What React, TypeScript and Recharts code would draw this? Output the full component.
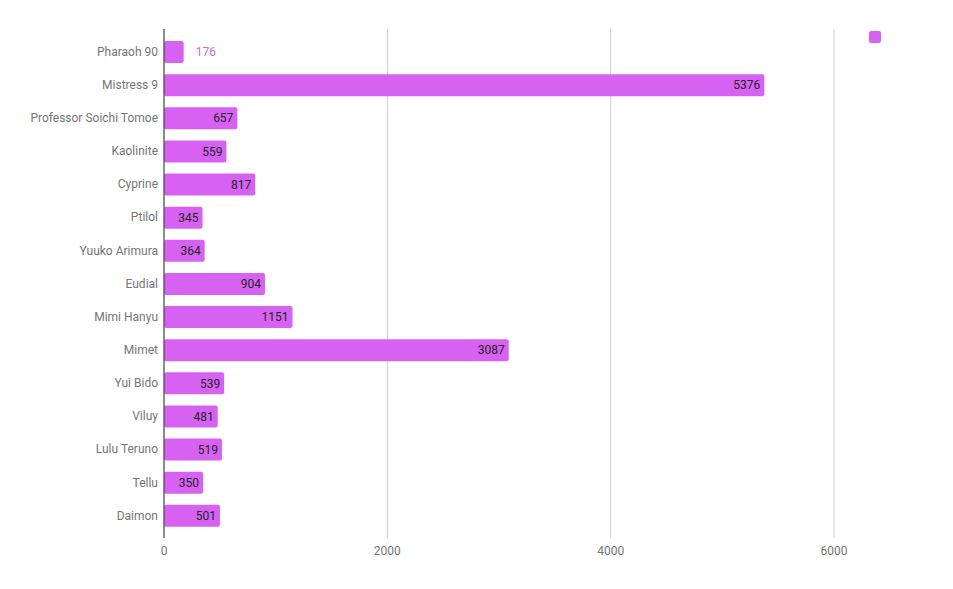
import { BarChart, Bar, XAxis, YAxis, CartesianGrid, LabelList } from 'recharts';

const names = [
  'Pharaoh 90',
  'Mistress 9',
  'Professor Soichi Tomoe',
  'Kaolinite',
  'Cyprine',
  'Ptilol',
  'Yuuko Arimura',
  'Eudial',
  'Mimi Hanyu',
  'Mimet',
  'Yui Bido',
  'Viluy',
  'Lulu Teruno',
  'Tellu',
  'Daimon',
];
const values = [176, 5376, 657, 559, 817, 345, 364, 904, 1151, 3087, 539, 481, 519, 350, 501];
const xTicks = [0, 2000, 4000, 6000];

const data = names.map((name, i) => ({ name, value: values[i] }));

const BAR_COLOR = '#d762f2';
const FONT = 'Roboto, sans-serif';

// label inside the bar end when it fits, otherwise just outside in the bar colour
function ValueLabel(props: any) {
  const { x, y, width, height, value } = props;
  const text = String(value);
  const textWidth = text.length * 7;
  const cy = y + height / 2;
  if (width > textWidth + 8) {
    return (
      <text x={x + width - 4} y={cy} dy="0.35em" textAnchor="end" fontSize={12} fill="#222" fontFamily={FONT}>
        {text}
      </text>
    );
  }
  return (
    <text x={x + width + 12} y={cy} dy="0.35em" textAnchor="start" fontSize={12} fill={BAR_COLOR} fontFamily={FONT}>
      {text}
    </text>
  );
}

export default function App() {
  return (
    <div style={{ position: 'absolute', left: 0, top: 0, width: 953, height: 589, background: '#fff', fontFamily: FONT }}>
      <BarChart
        width={953}
        height={589}
        data={data}
        layout="vertical"
        margin={{ top: 29, right: 119, bottom: 0, left: 0 }}
      >
        <CartesianGrid horizontal={false} stroke="#cccccc" />
        <XAxis
          type="number"
          domain={[0, 6000]}
          ticks={xTicks}
          axisLine={false}
          tickLine={false}
          height={51}
          tick={{ fill: '#757575', fontSize: 12, fontFamily: FONT }}
        />
        <YAxis
          type="category"
          dataKey="name"
          width={164}
          tickLine={false}
          tickSize={6}
          tickMargin={0}
          axisLine={{ stroke: '#333333' }}
          padding={{ top: 6, bottom: 6 }}
          interval={0}
          tick={{ fill: '#757575', fontSize: 12, fontFamily: FONT }}
        />
        <Bar dataKey="value" fill={BAR_COLOR} barSize={22} radius={2} isAnimationActive={false}>
          <LabelList dataKey="value" content={ValueLabel} />
        </Bar>
      </BarChart>
      {/* legend: a single swatch with no series name */}
      <div style={{ position: 'absolute', left: 869, top: 31, width: 12, height: 12, background: BAR_COLOR, borderRadius: 2 }} />
    </div>
  );
}
